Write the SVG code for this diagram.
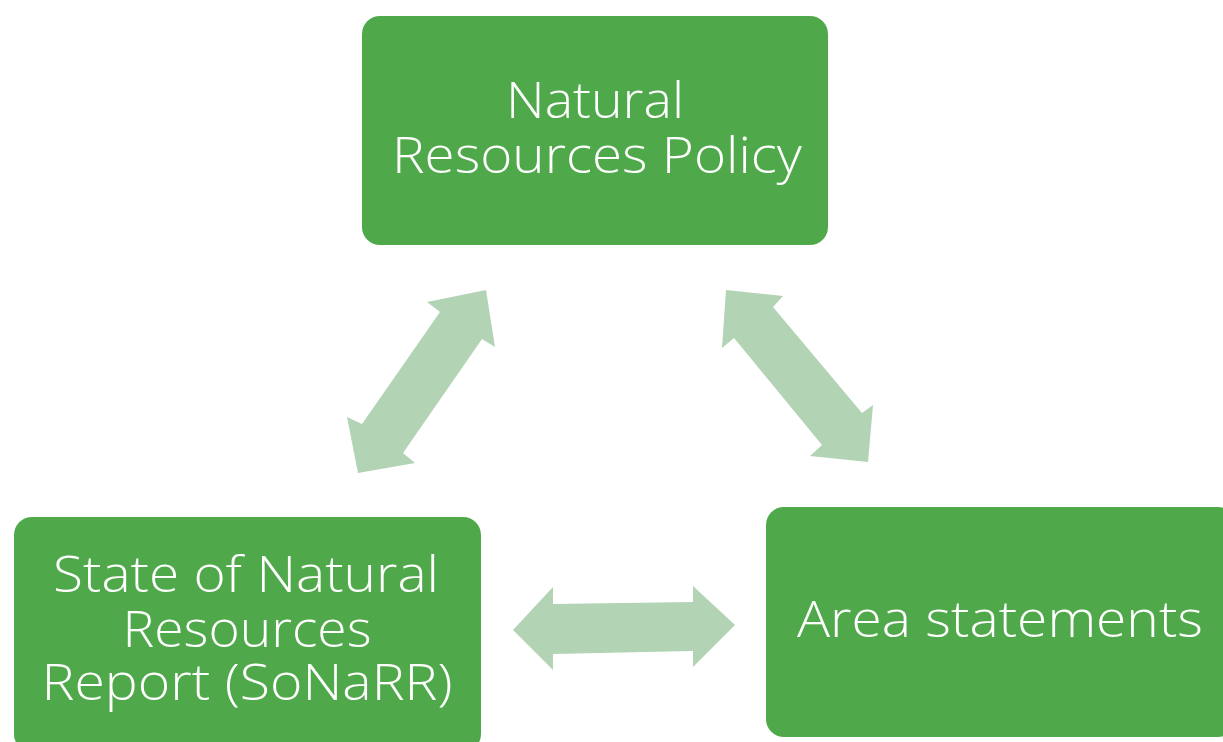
<svg xmlns="http://www.w3.org/2000/svg" width="1223" height="742" viewBox="0 0 1223 742">
<style>
.box{fill:#4fa94a}
.lbl{fill:#ffffff;font-family:"Open Sans","Liberation Sans",sans-serif;font-size:50px;font-weight:300;text-anchor:middle}
.arr{fill:#b2d3b4}
</style>
<rect width="1223" height="742" fill="#ffffff"/>
<g id="connectors">
<polygon class="arr" points="486,290 495,347 482,339 403,453 415,463 358,473 347,417 362,424 440,312 427,302"/>
<polygon class="arr" points="726,290 783,296 773,307 862,413 873,405 868,462 810,456 822,445 734,338 722,348"/>
<polygon class="arr" points="513,630 553,587 553,604 693,602 693,586 735,625 693,667 693,651 553,654 553,670"/>
</g>
<g id="node-policy">
<rect class="box" x="362" y="16" width="466" height="229" rx="18"/>
<text class="lbl" x="595" y="118" textLength="178" lengthAdjust="spacingAndGlyphs">Natural</text>
<text class="lbl" x="597" y="173" textLength="410" lengthAdjust="spacingAndGlyphs">Resources Policy</text>
</g>
<g id="node-sonarr">
<rect class="box" x="14" y="517" width="467" height="235" rx="18"/>
<text class="lbl" x="246" y="592" textLength="386" lengthAdjust="spacingAndGlyphs">State of Natural</text>
<text class="lbl" x="247" y="647" textLength="249" lengthAdjust="spacingAndGlyphs">Resources</text>
<text class="lbl" x="247" y="700" textLength="411" lengthAdjust="spacingAndGlyphs">Report (SoNaRR)</text>
</g>
<g id="node-area">
<rect class="box" x="766" y="507" width="470" height="230" rx="18"/>
<text class="lbl" x="1000" y="637" textLength="406" lengthAdjust="spacingAndGlyphs">Area statements</text>
</g>
</svg>
